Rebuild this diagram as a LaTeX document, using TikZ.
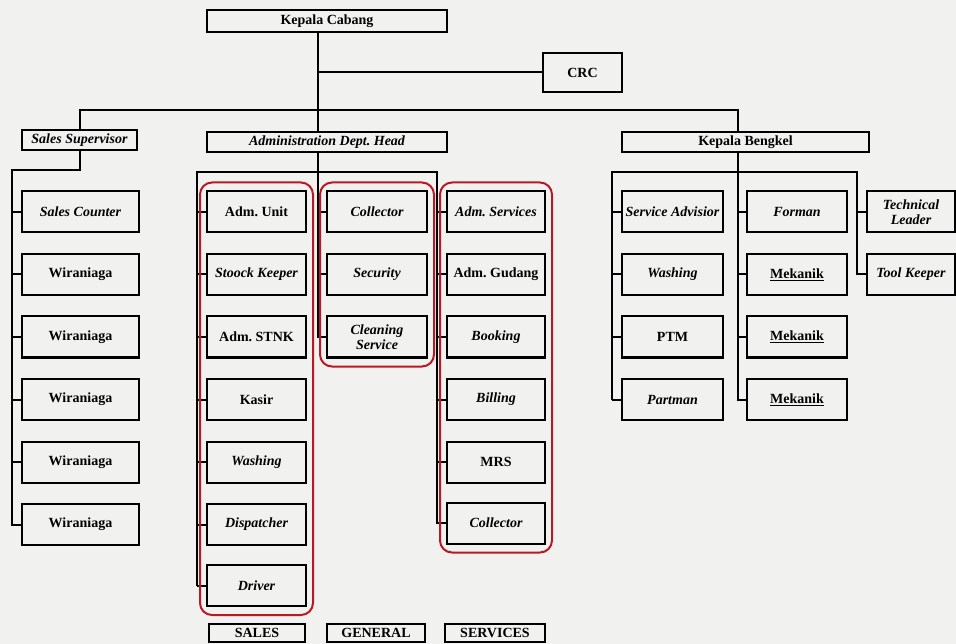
\documentclass[tikz,border=0pt]{standalone}
\usepackage{fontspec}
\setmainfont{Liberation Serif}
\usetikzlibrary{fit}
\begin{document}
\begin{tikzpicture}[x=1pt, y=-1pt, line width=2pt,
    font=\fontsize{14}{14.5}\selectfont\bfseries,
    box/.style={draw, line width=2pt, inner sep=1pt, align=center},
    head/.style={box, minimum height=20pt},
    unit/.style={box, minimum height=41pt},
    ital/.style={font=\fontsize{14}{14.5}\selectfont\bfseries\itshape},
    group/.style={draw=grpred, line width=2pt, rounded corners=12pt, inner xsep=6pt, inner ysep=8pt}]
			\definecolor{grpred}{RGB}{185,25,35}
			\definecolor{paper}{RGB}{241,241,239}
			\fill[paper] (0,0) rectangle (956,644);
			\useasboundingbox (0,0) rectangle (956,644);
			\node[head, minimum width=240pt, minimum height=22pt] (kc) at (327,21) {Kepala Cabang};
			\node[head, minimum width=79pt, minimum height=39pt] (crc) at (582.5,72.5) {CRC};
			\node[head, ital, minimum width=115pt] (ss) at (79.5,140) {Sales Supervisor};
			\node[head, ital, minimum width=240pt] (adh) at (327,142) {Administration Dept.\ Head};
			\node[head, minimum width=247pt] (kb) at (745.5,142.5) {Kepala Bengkel};
			\coordinate (trunk) at (318,110);
			\coordinate (bk) at (738,172);
			\draw (trunk |- kc.south) -- (trunk |- adh.north);
			\draw (trunk |- crc.west) -- (crc.west);
			\draw (ss.north) |- (trunk) -| (bk |- kb.north);
			\draw (bk |- kb.south) -- (bk);
			% sales
			\node[unit, ital, minimum width=117pt] (sc) at (80.5,212) {Sales Counter};
			\foreach \i in {1,...,5}
				\node[unit, minimum width=117pt] (w\i) at (80.5,{212+62.5*\i}) {Wiraniaga};
			\coordinate (sbus) at (12,170);
			\draw (ss.south) |- (sbus) |- (w5.west);
			\foreach \n in {sc,w1,w2,w3,w4}
				\draw (sbus |- \n.west) -- (\n.west);
			% administration
			\node[unit, minimum width=99pt] (au) at (256.5,212) {Adm.\ Unit};
			\node[unit, ital, minimum width=99pt] (sk) at (256.5,274.5) {Stoock Keeper};
			\node[unit, minimum width=99pt] (stnk) at (256.5,337) {Adm.\ STNK};
			\node[unit, minimum width=99pt] (ks) at (256.5,399.5) {Kasir};
			\node[unit, ital, minimum width=99pt] (wa) at (256.5,462) {Washing};
			\node[unit, ital, minimum width=99pt] (dp) at (256.5,524.5) {Dispatcher};
			\node[unit, ital, minimum width=99pt] (dr) at (256.5,585.5) {Driver};
			\node[unit, ital, minimum width=100pt] (co) at (377,212) {Collector};
			\node[unit, ital, minimum width=100pt] (se) at (377,274.5) {Security};
			\node[unit, ital, minimum width=100pt] (cs) at (377,337) {Cleaning\\Service};
			\node[unit, ital, minimum width=98pt] (as) at (496,212) {Adm.\ Services};
			\node[unit, minimum width=98pt] (ag) at (496,274.5) {Adm.\ Gudang};
			\node[unit, ital, minimum width=98pt] (bo) at (496,337) {Booking};
			\node[unit, ital, minimum width=98pt] (bi) at (496,399.5) {Billing};
			\node[unit, minimum width=98pt] (mrs) at (496,462) {MRS};
			\node[unit, ital, minimum width=98pt] (co2) at (496,523) {Collector};
			\coordinate (al) at (197,172);
			\coordinate (ac) at (318,172);
			\coordinate (ar) at (437,172);
			\draw (dr.west -| al) |- (ar) -- (ar |- co2.west) -- (co2.west);
			\draw (trunk |- adh.south) -- (ac) |- (cs.west);
			\foreach \n in {au,sk,stnk,ks,wa,dp}
				\draw (al |- \n.west) -- (\n.west);
			\draw (dr.west -| al) -- (dr.west);
			\foreach \n in {co,se}
				\draw (ac |- \n.west) -- (\n.west);
			\foreach \n in {as,ag,bo,bi,mrs}
				\draw (ar |- \n.west) -- (\n.west);
			\node[group, fit=(au)(dr)] (gsales) {};
			\node[group, fit=(co)(cs)] (ggeneral) {};
			\node[group, fit=(as)(co2)] (gservices) {};
			\node[head, minimum width=96pt, minimum height=18pt] (lsales) at (257,633) {SALES};
			\node[head, minimum width=98pt, minimum height=18pt] (lgeneral) at (376,633) {GENERAL};
			\node[head, minimum width=100pt, minimum height=18pt] (lservices) at (495,633) {SERVICES};
			% bengkel
			\node[unit, ital, minimum width=101pt] (sa) at (672.5,212) {Service Advisior};
			\node[unit, ital, minimum width=101pt] (wb) at (672.5,274.5) {Washing};
			\node[unit, minimum width=101pt] (ptm) at (672.5,337) {PTM};
			\node[unit, ital, minimum width=101pt] (pa) at (672.5,399.5) {Partman};
			\node[unit, ital, minimum width=100pt] (fo) at (797,212) {Forman};
			\foreach \i in {1,2,3}
				\node[unit, minimum width=100pt] (m\i) at (797,{212+62.5*\i}) {\underline{Mekanik}};
			\node[unit, ital, minimum width=88pt] (tl) at (911,212) {Technical\\Leader};
			\node[unit, ital, minimum width=88pt] (tk) at (911,274.5) {Tool Keeper};
			\coordinate (bl) at (612,172);
			\coordinate (br) at (857,172);
			\draw (bl |- pa.west) -- (pa.west);
			\draw (pa.west -| bl) |- (br) |- (tk.west);
			\draw (bk) |- (m3.west);
			\foreach \n in {sa,wb,ptm}
				\draw (bl |- \n.west) -- (\n.west);
			\foreach \n in {fo,m1,m2}
				\draw (bk |- \n.west) -- (\n.west);
			\draw (br |- tl.west) -- (tl.west);
		\end{tikzpicture}
\end{document}
